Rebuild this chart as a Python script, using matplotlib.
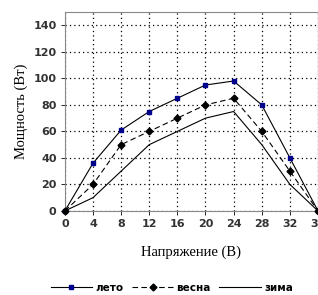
import numpy as np
import matplotlib.pyplot as plt

# Данные
u = [0, 4, 8, 12, 16, 20, 24, 28, 32, 36]
leto = [0, 36, 61, 75, 85, 95, 98, 80, 40, 0]
vesna = [0, 20, 50, 60, 70, 80, 85, 60, 30, 0]
zima = [0, 10, 30, 50, 60, 70, 75, 50, 20, 0]
xticks = [0, 4, 8, 12, 16, 20, 24, 28, 32, 36]
yticks = [0, 20, 40, 60, 80, 100, 120, 140]

fig = plt.figure(figsize=(3.18, 2.95), dpi=100)
ax = fig.add_axes([0.204, 0.285, 0.796, 0.674])

ax.plot(u, leto, color='black', lw=0.8, marker='s', ms=3.5,
        mfc='#00008b', mec='#00008b', label='лето', clip_on=False, zorder=3)
ax.plot(u, vesna, color='black', lw=0.8, ls=(0, (5, 3)), marker='D', ms=3.5,
        mfc='black', mec='black', label='весна', clip_on=False, zorder=3)
ax.plot(u, zima, color='black', lw=0.8, label='зима', clip_on=False, zorder=3)

ax.set_xlim(0, 36)
ax.set_ylim(0, 150)
ax.set_xticks(xticks)
ax.set_yticks(yticks)
ax.tick_params(labelsize=8, length=3, width=0.6, pad=3)
for t in ax.get_xticklabels() + ax.get_yticklabels():
    t.set_fontweight('bold')
    t.set_color('#333333')
ax.grid(True, color='black', ls=(0, (1, 2.5)), lw=0.9)
for s in ax.spines.values():
    s.set_color('#888888')
    s.set_linewidth(0.8)

ax.set_xlabel('Напряжение (В)', family='Liberation Serif', fontsize=10.5, labelpad=12)
ax.set_ylabel('Мощность (Вт)', family='Liberation Serif', fontsize=10.5, labelpad=4)

fig.legend(loc='lower center', bbox_to_anchor=(0.54, -0.025), ncol=3, frameon=False,
           prop={'weight': 'bold', 'size': 7.5}, handlelength=4, columnspacing=0.8,
           handletextpad=0.3)

fig.savefig('out.png', dpi=100)
